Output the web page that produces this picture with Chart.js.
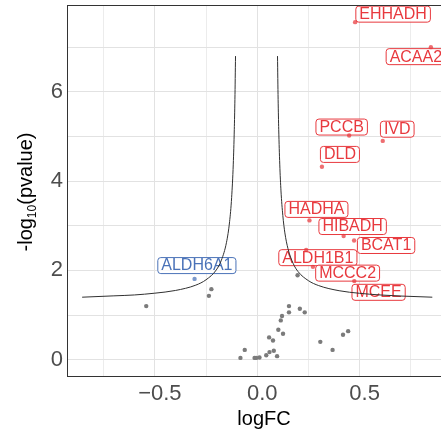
<!DOCTYPE html>
<html>
<head>
<meta charset="utf-8">
<script src="https://cdn.jsdelivr.net/npm/chart.js@4"></script>
<style>
html, body { margin: 0; padding: 0; background: #fff; overflow: hidden; }
#wrap { width: 466px; height: 437px; }
</style>
</head>
<body>
<div id="wrap"><canvas id="volcano" width="466" height="437"></canvas></div>
<script>
// Volcano plot: logFC vs -log10(pvalue)

const geneNames = ['EHHADH', 'ACAA2', 'PCCB', 'IVD', 'DLD', 'HADHA', 'HIBADH', 'BCAT1', 'ALDH1B1', 'MCCC2', 'MCEE', 'ALDH6A1'];
const geneLogFC = [0.478, 0.848, 0.449, 0.613, 0.316, 0.255, 0.422, 0.473, 0.239, 0.272, 0.474, -0.306];
const geneNegLogP = [7.56, 7.00, 5.02, 4.90, 4.32, 3.12, 2.77, 2.67, 2.46, 2.08, 1.76, 1.81];
const geneDirection = ['up', 'up', 'up', 'up', 'up', 'up', 'up', 'up', 'up', 'up', 'up', 'down'];

const otherLogFC = [-0.542, -0.236, -0.224, -0.082, -0.061, -0.013, -0.005, 0.011, 0.044, 0.060, 0.081, 0.097,
    0.058, 0.077, 0.103, 0.126, 0.115, 0.121, 0.155, 0.155, 0.208, 0.232, 0.197, 0.308, 0.368, 0.419, 0.444];
const otherNegLogP = [1.20, 1.43, 1.58, 0.04, 0.22, 0.04, 0.04, 0.05, 0.10, 0.17, 0.20, 0.08,
    0.50, 0.43, 0.67, 0.58, 0.88, 0.98, 1.20, 1.06, 1.14, 1.06, 1.89, 0.40, 0.22, 0.56, 0.64];

// significance threshold curves
const curveLeftX = [-0.855, -0.7, -0.6, -0.5, -0.4, -0.3, -0.25, -0.2, -0.175, -0.15, -0.135, -0.125, -0.117, -0.112, -0.109, -0.106];
const curveLeftY = [1.40, 1.43, 1.45, 1.49, 1.55, 1.67, 1.79, 2.01, 2.23, 2.63, 3.09, 3.63, 4.38, 5.15, 5.83, 6.80];
const curveRightX = [0.099, 0.102, 0.105, 0.110, 0.116, 0.125, 0.135, 0.15, 0.175, 0.2, 0.25, 0.3, 0.4, 0.5, 0.6, 0.7, 0.855];
const curveRightY = [6.80, 5.83, 5.15, 4.38, 3.78, 3.23, 2.84, 2.49, 2.16, 1.97, 1.77, 1.66, 1.545, 1.487, 1.45, 1.426, 1.40];

const xTickValues = [-0.75, -0.5, -0.25, 0, 0.25, 0.5, 0.75];
const xTickLabels = ['', '\u22120.5', '', '0.0', '', '0.5', ''];
const yTickValues = [0, 1, 2, 3, 4, 5, 6, 7];
const yTickLabels = ['0', '', '2', '', '4', '', '6', ''];

// where the repelled label boxes sit, px from the point to the box centre
const labelShift = {
    EHHADH: [38, -8], ACAA2: [-15, 9.5], PCCB: [-7.5, -8.5], IVD: [14.5, -11.7], DLD: [18, -12.4],
    HADHA: [7, -11], HIBADH: [9, -9.5], BCAT1: [32, 5], ALDH1B1: [11.7, 7.8], MCCC2: [34.7, 6.3],
    MCEE: [24.3, 11.2], ALDH6A1: [2.3, -13.3]
};

const FONT = "'Liberation Sans', Arial, Helvetica, sans-serif";
const RED = '#e8393e';
const BLUE = '#4a72b8';
const GREY = '#7b7b7b';

const toXY = (xs, ys) => xs.map((x, i) => ({ x: x, y: ys[i] }));

function geneColor(i) {
    return geneDirection[i] === 'down' ? BLUE : RED;
}

function roundRect(ctx, x, y, w, h, r) {
    ctx.beginPath();
    ctx.moveTo(x + r, y);
    ctx.lineTo(x + w - r, y);
    ctx.arcTo(x + w, y, x + w, y + r, r);
    ctx.lineTo(x + w, y + h - r);
    ctx.arcTo(x + w, y + h, x + w - r, y + h, r);
    ctx.lineTo(x + r, y + h);
    ctx.arcTo(x, y + h, x, y + h - r, r);
    ctx.lineTo(x, y + r);
    ctx.arcTo(x, y, x + r, y, r);
    ctx.closePath();
}

const geneLabels = {
    id: 'geneLabels',
    beforeDatasetsDraw(chart) {
        const ctx = chart.ctx;
        const xs = chart.scales.x, ys = chart.scales.y;
        ctx.save();
        ctx.font = '16px ' + FONT;
        ctx.textAlign = 'center';
        ctx.textBaseline = 'middle';
        geneNames.forEach((name, i) => {
            const px = xs.getPixelForValue(geneLogFC[i]);
            const py = ys.getPixelForValue(geneNegLogP[i]);
            const shift = labelShift[name] || [0, -12];
            const cx = px + shift[0], cy = py + shift[1];
            const w = ctx.measureText(name).width + 7;
            const h = 16;
            roundRect(ctx, cx - w / 2, cy - h / 2, w, h, 3);
            ctx.fillStyle = 'rgba(255,255,255,0.8)';
            ctx.fill();
            ctx.lineWidth = 1;
            ctx.strokeStyle = geneColor(i);
            ctx.stroke();
            ctx.fillStyle = geneColor(i);
            ctx.fillText(name, cx, cy + 0.5);
        });
        ctx.restore();
    }
};

const panelFrame = {
    id: 'panelFrame',
    afterDatasetsDraw(chart) {
        const a = chart.chartArea;
        const ctx = chart.ctx;
        ctx.save();
        ctx.strokeStyle = '#333333';
        ctx.lineWidth = 1;
        ctx.strokeRect(a.left + 0.5, a.top + 0.5, a.right - a.left, a.bottom - a.top);
        ctx.restore();
    }
};

const axisTitles = {
    id: 'axisTitles',
    afterDraw(chart) {
        const ctx = chart.ctx;
        ctx.save();
        ctx.fillStyle = '#000';
        ctx.textBaseline = 'alphabetic';
        // x title
        ctx.font = '20px ' + FONT;
        ctx.textAlign = 'center';
        ctx.fillText('logFC', 264, 425);
        // y title with subscript
        ctx.translate(32, 192);
        ctx.rotate(-Math.PI / 2);
        ctx.textAlign = 'left';
        const big = '20px ' + FONT, small = '12px ' + FONT;
        ctx.font = big;
        const w1 = ctx.measureText('-log').width;
        const w3 = ctx.measureText('(pvalue)').width;
        ctx.font = small;
        const w2 = ctx.measureText('10').width;
        let x = -(w1 + w2 + w3) / 2;
        ctx.font = big;
        ctx.fillText('-log', x, 0);
        x += w1;
        ctx.font = small;
        ctx.fillText('10', x, 4);
        x += w2;
        ctx.font = big;
        ctx.fillText('(pvalue)', x, 0);
        ctx.restore();
    }
};

function gridColor(ctx) {
    const v = ctx.tick ? ctx.tick.value : 0;
    return Math.abs(v % 0.5) < 1e-9 || ctx.scale.axis === 'y' && v % 2 === 0 ? '#e2e2e2' : '#ececec';
}

new Chart(document.getElementById('volcano').getContext('2d'), {
    type: 'scatter',
    data: {
        datasets: [
            {
                data: toXY(otherLogFC, otherNegLogP),
                pointRadius: 2.2,
                pointBackgroundColor: GREY,
                pointBorderWidth: 0
            },
            {
                data: toXY(geneLogFC, geneNegLogP),
                pointRadius: 2.2,
                pointBackgroundColor: geneNames.map((n, i) => geneColor(i) + 'bb'),
                pointBorderWidth: 0
            },
            {
                data: toXY(curveLeftX, curveLeftY),
                showLine: true,
                pointRadius: 0,
                borderColor: '#303030',
                borderWidth: 1,
                cubicInterpolationMode: 'monotone'
            },
            {
                data: toXY(curveRightX, curveRightY),
                showLine: true,
                pointRadius: 0,
                borderColor: '#303030',
                borderWidth: 1,
                cubicInterpolationMode: 'monotone'
            }
        ]
    },
    options: {
        responsive: false,
        animation: false,
        layout: { padding: { top: 5, right: 0, left: 0, bottom: 0 } },
        plugins: { legend: { display: false }, tooltip: { enabled: false } },
        scales: {
            x: {
                type: 'linear',
                min: -0.929,
                max: 1.0,
                afterBuildTicks: axis => { axis.ticks = xTickValues.map(v => ({ value: v })); },
                afterFit: axis => { axis.height = 61; axis.paddingLeft = 0; axis.paddingRight = 0; },
                grid: { color: gridColor, lineWidth: 1, drawTicks: false },
                border: { display: false },
                ticks: {
                    padding: 5,
                    labelOffset: 5,
                    maxRotation: 0,
                    autoSkip: false,
                    color: '#4d4d4d',
                    font: { family: FONT, size: 22 },
                    callback: (value, index) => xTickLabels[xTickValues.indexOf(value)] || ''
                }
            },
            y: {
                type: 'linear',
                min: -0.365,
                max: 7.944,
                afterBuildTicks: axis => { axis.ticks = yTickValues.map(v => ({ value: v })); },
                afterFit: axis => { axis.width = 67; axis.paddingTop = 0; axis.paddingBottom = 0; },
                grid: { color: gridColor, lineWidth: 1, drawTicks: false },
                border: { display: false },
                ticks: {
                    padding: 4,
                    autoSkip: false,
                    color: '#4d4d4d',
                    font: { family: FONT, size: 22 },
                    callback: (value) => yTickLabels[yTickValues.indexOf(value)] || ''
                }
            }
        }
    },
    plugins: [geneLabels, panelFrame, axisTitles]
});
</script>
</body>
</html>
